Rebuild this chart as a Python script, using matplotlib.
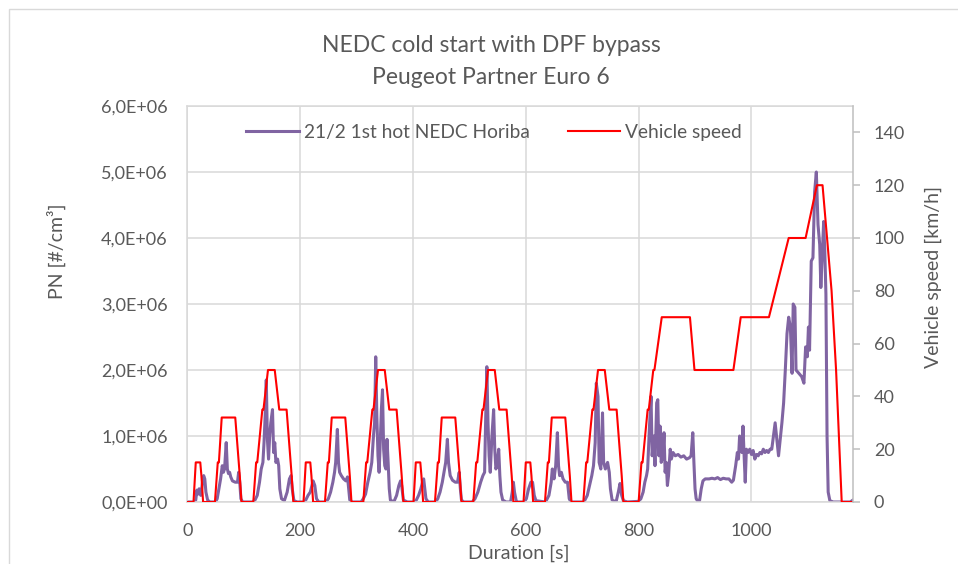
import numpy as np
import matplotlib
matplotlib.use("Agg")
import matplotlib.pyplot as plt
from matplotlib.ticker import FuncFormatter, MultipleLocator
from matplotlib.patches import Rectangle

plt.rcParams['font.family'] = ['Lato', 'DejaVu Sans']

# NEDC speed trace: one ECE-15 urban cycle (repeated 4x) + EUDC
ece_t = [0, 11, 15, 23, 25, 28, 49, 54, 56, 61, 85, 93, 96, 117, 122, 124,
         133, 135, 143, 155, 163, 176, 185, 188, 195]
ece_v = [0, 0, 15, 15, 10, 0, 0, 15, 15, 32, 32, 10, 0, 0, 15, 15,
         35, 35, 50, 50, 35, 35, 10, 0, 0]
eudc_t = [780, 800, 805, 807, 816, 818, 826, 828, 841, 891, 899, 968, 981,
          1031, 1066, 1096, 1116, 1126, 1142, 1150, 1160, 1180]
eudc_v = [0, 0, 15, 15, 35, 35, 50, 50, 70, 70, 50, 50, 70,
          70, 100, 100, 120, 120, 80, 50, 0, 0]

# PN concentration (x 1e6 #/cm3)
pn_t = [0, 12, 15, 17, 19, 21, 24, 27, 29, 31, 33, 36, 40,
        50, 53, 56, 59, 62, 64, 66, 69, 71, 73, 75, 77, 80, 85, 89, 91, 93, 95, 98,
        116, 120, 124, 128, 131, 134, 136, 138, 140, 142, 144, 146, 148, 151, 153,
        155, 157, 160, 162, 164, 167, 172, 177, 181, 184, 186, 189,
        195, 207, 210, 214, 218, 221, 223, 226, 229, 233,
        246, 250, 254, 258, 261, 263, 266, 268, 270, 273, 277, 281, 284, 286, 288, 292,
        308, 312, 316, 320, 324, 327, 330, 332, 334, 336, 338, 340, 342, 344, 346,
        348, 350, 352, 354, 356, 358, 360, 366, 371, 375, 378, 380, 383,
        390, 402, 406, 410, 414, 417, 419, 421, 423, 427,
        440, 444, 448, 452, 455, 458, 461, 463, 466, 470, 475, 479, 482, 484, 486, 490,
        505, 510, 515, 520, 524, 527, 529, 531, 533, 535, 537, 540, 543, 545, 547,
        549, 552, 554, 556, 559, 565, 573, 576, 578, 580, 583,
        585, 597, 601, 605, 609, 612, 615, 618,
        635, 641, 645, 647, 650, 653, 656, 658, 660, 663, 666, 670, 674, 677, 680,
        703, 709, 713, 717, 720, 723, 725, 728, 730, 733, 736, 738, 741, 745, 748,
        750, 753, 760, 764, 767, 770, 773,
        780, 800, 804, 808, 811, 814, 816, 819, 822, 824, 827, 829, 832, 834, 836,
        838, 840, 843, 845, 847, 849, 851, 853, 856, 858, 861, 865, 870, 875, 880,
        885, 890, 893, 896, 898, 900, 902, 905, 908, 911, 914, 918, 925, 930, 935,
        940, 945, 950, 955, 960, 965, 968, 972, 975, 977, 979, 981, 983, 985, 987,
        989, 991, 994, 997, 1000, 1003, 1006, 1009, 1012, 1015, 1018, 1021, 1024,
        1027, 1030, 1033, 1036, 1039, 1042, 1045, 1048, 1051, 1054, 1057, 1060,
        1063, 1066, 1069, 1072, 1074, 1077, 1079, 1084, 1089, 1093, 1096, 1099,
        1101, 1103, 1106, 1109, 1112, 1115, 1118, 1121, 1123, 1126, 1128, 1130,
        1132, 1134, 1136, 1139, 1145, 1175, 1180]
pn_v = [0, 0, 0.03, 0.18, 0.12, 0.2, 0.1, 0.3, 0.4, 0.35, 0.15, 0.03, 0,
        0, 0.05, 0.2, 0.35, 0.55, 0.45, 0.5, 0.9, 0.5, 0.43, 0.45, 0.38, 0.32, 0.3, 0.3, 0.45, 0.3, 0.05, 0,
        0, 0.03, 0.1, 0.3, 0.5, 0.6, 0.9, 1.3, 1.85, 0.95, 0.65, 1.0, 1.2, 1.4, 0.75,
        0.9, 0.6, 0.65, 0.55, 0.2, 0.05, 0.02, 0.15, 0.35, 0.4, 0.2, 0.02,
        0, 0, 0.03, 0.1, 0.15, 0.25, 0.32, 0.25, 0.05, 0,
        0, 0.05, 0.15, 0.3, 0.45, 0.6, 1.1, 0.6, 0.45, 0.4, 0.35, 0.32, 0.38, 0.2, 0.03, 0,
        0, 0.05, 0.12, 0.3, 0.45, 0.6, 1.0, 1.2, 2.2, 1.3, 0.7, 0.45, 0.9, 1.4, 1.7,
        0.8, 0.55, 0.5, 0.95, 0.6, 0.2, 0.03, 0, 0.1, 0.25, 0.32, 0.25, 0.03,
        0, 0, 0.03, 0.1, 0.2, 0.3, 0.35, 0.2, 0.05, 0,
        0, 0.05, 0.15, 0.3, 0.45, 0.6, 0.95, 0.6, 0.4, 0.33, 0.3, 0.3, 0.45, 0.2, 0.03, 0,
        0, 0.05, 0.15, 0.3, 0.4, 0.45, 1.3, 2.05, 1.2, 0.7, 0.45, 1.0, 1.4, 0.8, 0.5,
        0.55, 0.8, 0.4, 0.15, 0.03, 0, 0, 0.15, 0.3, 0.15, 0.02,
        0, 0, 0.05, 0.2, 0.3, 0.3, 0.1, 0.02,
        0, 0.1, 0.3, 0.5, 0.35, 0.55, 1.05, 0.55, 0.4, 0.45, 0.35, 0.3, 0.3, 0.05, 0,
        0, 0.1, 0.25, 0.4, 0.55, 0.9, 1.8, 1.6, 0.6, 0.5, 1.35, 0.6, 0.5, 0.6, 0.45,
        0.2, 0.03, 0, 0.15, 0.28, 0.1, 0.02,
        0, 0.01, 0.05, 0.15, 0.3, 0.4, 0.5, 1.1, 1.6, 0.7, 1.0, 0.55, 1.5, 1.55, 0.7,
        1.15, 0.6, 0.7, 1.05, 0.45, 0.6, 0.25, 0.4, 0.8, 0.65, 0.75, 0.7, 0.72, 0.68, 0.7,
        0.65, 0.67, 0.7, 1.05, 0.6, 0.2, 0.05, 0.01, 0.02, 0.2, 0.32, 0.35, 0.35, 0.36, 0.35,
        0.37, 0.34, 0.36, 0.35, 0.35, 0.3, 0.33, 0.55, 0.75, 0.65, 1.0, 0.8, 0.75, 1.15, 0.7,
        0.3, 0.8, 0.75, 0.8, 0.72, 0.78, 0.65, 0.72, 0.7, 0.75, 0.73, 0.8, 0.75,
        0.78, 0.75, 0.8, 0.8, 1.0, 1.2, 0.95, 0.7, 0.95, 1.2, 1.5, 2.0,
        2.55, 2.8, 2.65, 1.95, 3.0, 2.95, 2.0, 1.95, 1.9, 1.8, 2.35, 2.2,
        2.65, 2.3, 3.65, 3.7, 4.7, 5.0, 4.2, 3.9, 3.25, 3.85, 4.25, 3.8,
        3.15, 1.0, 0.15, 0.02, 0, 0, 0.03]

speed_t = []
speed_v = []
for k in range(4):
    speed_t += [t + 195 * k for t in ece_t]
    speed_v += ece_v
speed_t += eudc_t
speed_v += eudc_v

grey = '#595959'
grid = '#D9D9D9'
fs = 13

fig = plt.figure(figsize=(9.58, 5.64), dpi=100)
ax = fig.add_axes([187.3 / 958, 1 - 502 / 564, (853 - 187.3) / 958, 396 / 564])
ax2 = ax.twinx()

l1, = ax.plot(pn_t, np.array(pn_v) * 1e6, color='#8064A2', lw=2.2,
              label='21/2 1st hot NEDC Horiba')
l2, = ax2.plot(speed_t, speed_v, color='#FF0000', lw=1.5, label='Vehicle speed')

ax.set_xlim(0, 1180)
ax.set_ylim(0, 6e6)
ax2.set_ylim(0, 150)
ax.xaxis.set_major_locator(MultipleLocator(200))
ax.yaxis.set_major_locator(MultipleLocator(1e6))
ax2.set_yticks(range(0, 141, 20))
ax.yaxis.set_major_formatter(FuncFormatter(lambda v, p: f"{v:.1E}".replace('.', ',')))

ax.grid(True, color=grid, lw=1.1)
ax.set_axisbelow(True)
for s in ['left', 'bottom', 'top']:
    ax.spines[s].set_color(grid)
    ax.spines[s].set_linewidth(1.1)
ax.spines['right'].set_visible(False)
for s in ['left', 'bottom', 'top']:
    ax2.spines[s].set_visible(False)
ax2.spines['right'].set_color('#BFBFBF')
ax2.spines['right'].set_linewidth(1.1)

ax.tick_params(axis='both', length=0, labelsize=fs, labelcolor=grey)
ax.tick_params(axis='y', pad=14)
ax.tick_params(axis='x', pad=15)
ax2.tick_params(axis='y', length=5, width=1.1, color='#BFBFBF', labelsize=fs,
                labelcolor=grey, pad=10)

fig.text(519 / 958, 1 - 553 / 564, 'Duration [s]', ha='center', va='center',
         fontsize=14, color=grey)
fig.text(56 / 958, 1 - 251 / 564, 'PN [#/cm³]', ha='center', va='center',
         rotation=90, fontsize=14, color=grey)
fig.text(933 / 958, 1 - 277 / 564, 'Vehicle speed [km/h]', ha='center', va='center',
         rotation=90, fontsize=14, color=grey)

fig.text(0.5125, 1 - 45 / 564, 'NEDC cold start with DPF bypass', ha='center',
         va='center', fontsize=16.5, color=grey)
fig.text(0.5125, 1 - 77 / 564, 'Peugeot Partner Euro 6', ha='center',
         va='center', fontsize=16.5, color=grey)

ax2.legend(handles=[l1, l2], loc='center', bbox_to_anchor=(0.4607, 0.934),
           ncol=2, frameon=False, fontsize=13.8, labelcolor=grey,
           handlelength=2.75, handletextpad=0.25, columnspacing=2.0)

fig.patches.append(Rectangle((9 / 958, -0.1), 1.2, 1.1 - 9 / 564,
                             transform=fig.transFigure, fill=False,
                             edgecolor=grid, lw=1.0))

fig.savefig('out.png', dpi=100)
